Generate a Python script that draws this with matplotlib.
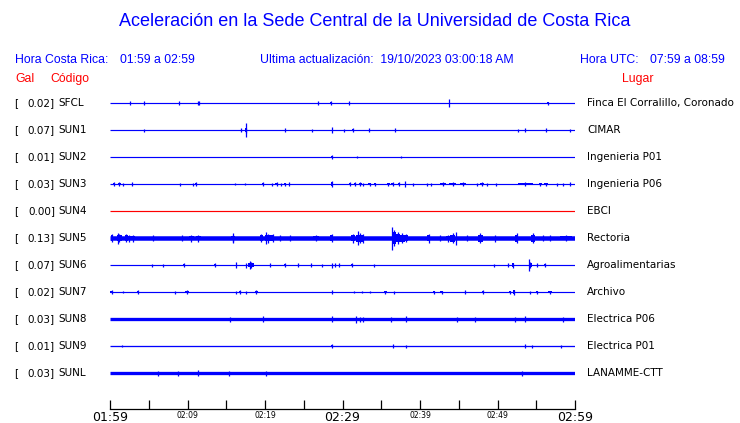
import numpy as np
import matplotlib
matplotlib.use("Agg")
import matplotlib.pyplot as plt
from matplotlib.transforms import blended_transform_factory

# Station table
codes = ["SFCL", "SUN1", "SUN2", "SUN3", "SUN4", "SUN5", "SUN6", "SUN7", "SUN8", "SUN9", "SUNL"]
peaks = [0.02, 0.07, 0.01, 0.03, 0.00, 0.13, 0.07, 0.02, 0.03, 0.01, 0.03]  # Gal
places = ["Finca El Corralillo, Coronado", "CIMAR", "Ingenieria P01", "Ingenieria P06", "EBCI",
          "Rectoria", "Agroalimentarias", "Archivo", "Electrica P06", "Electrica P01", "LANAMME-CTT"]
noise = [1.0, 1.0, 1.0, 1.0, 1.0, 4.5, 1.0, 1.0, 3.3, 1.3, 3.3]  # background band width

# Events per station: (minute after 01:59, half amplitude, duration in minutes)
sfcl_ev = [(2.6, 2, 0), (4.4, 2, 0), (8.9, 2, 0), (11.3, 2, 0), (11.5, 2, 0), (26.8, 2, 0),
           (28.5, 2, 0.3), (30.9, 2, 0), (43.7, 4, 0), (56.5, 1.5, 0.2)]
sun1_ev = [(4.4, 1.5, 0), (16.9, 2, 0), (17.5, 7, 0), (17.5, 2.5, 0.25), (22.6, 2, 0), (26.0, 1.5, 0),
           (28.6, 3, 0), (30.2, 1.5, 0), (31.3, 2, 0.15), (33.4, 2, 0), (36.8, 2, 0), (52.6, 1.5, 0),
           (53.5, 2, 0), (56.3, 2, 0.15), (59.3, 1.5, 0)]
sun2_ev = [(28.6, 2, 0.15), (31.9, 1, 0), (37.5, 1, 0)]
sun3_ev = [(0.5, 2, 0.3), (1.2, 2, 0.4), (1.7, 1.5, 0), (2.9, 2, 0), (9.0, 1.5, 0), (10.7, 1.5, 0),
           (11.1, 2, 0.2), (16.1, 1, 0), (17.4, 1, 0), (19.7, 2, 0.2), (20.9, 1.5, 0), (21.5, 2, 0.4),
           (22.1, 1.5, 0), (22.6, 1.5, 0.3), (23.1, 2, 0), (28.6, 3, 0.2), (31.0, 2, 0.2), (31.6, 2, 0.3),
           (32.3, 2, 0.4), (32.6, 1.5, 0), (33.5, 1.5, 0.3), (34.2, 1.5, 0.3), (35.9, 1.5, 0.4),
           (36.5, 2, 0.4), (37.3, 2, 0.3), (38.1, 3, 0), (39.1, 1.5, 0), (40.9, 1.5, 0), (41.4, 1.5, 0),
           (43.0, 2, 0.8), (44.2, 2, 0.8), (45.5, 2, 0.8), (47.4, 1.5, 0), (48.0, 2, 0.4), (48.6, 1.5, 0),
           (49.8, 1.5, 0), (53.6, 2, 1.9), (55.5, 1.5, 0.4), (56.3, 1.5, 0.5), (57.7, 1.5, 0),
           (58.5, 1.5, 0), (59.4, 2, 0)]
sun4_ev = []
sun5_ev = [(0.3, 4, 0.3), (1.0, 5.5, 0), (1.2, 4, 0.6), (2.1, 4, 0.4), (2.5, 3.5, 0.8), (3.0, 3.5, 0.5),
           (5.6, 3, 0), (9.3, 3, 0), (10.5, 3.5, 0.6), (11.4, 3.5, 0.6), (15.9, 5, 0), (15.9, 3.5, 0.5),
           (19.5, 4, 0.4), (20.1, 6, 0), (20.4, 4.5, 0.8), (21.0, 4, 0.4), (21.9, 3, 0), (23.2, 3, 0),
           (26.6, 3, 0.8), (28.6, 4, 0.3), (31.4, 4.5, 0.5), (32.0, 7, 0), (32.2, 5, 0.8), (32.6, 4.5, 0.3),
           (36.4, 11.5, 0), (36.6, 8, 0.5), (37.1, 6, 0.6), (37.7, 5, 0.6), (38.2, 4, 0.4), (41.1, 4.5, 0.4),
           (42.6, 3, 0), (43.6, 3.5, 0.5), (44.2, 5, 0.6), (44.6, 6.5, 0), (46.0, 3, 0), (47.8, 5, 0.6),
           (49.7, 3.5, 0), (52.5, 5, 0.4), (54.6, 5, 0.5), (55.9, 3, 0), (56.8, 3, 0), (58.8, 3, 1.5)]
sun6_ev = [(5.4, 1.5, 0), (6.9, 1.5, 0), (9.5, 2, 0.2), (13.5, 2, 0.2), (16.2, 3, 0), (17.6, 2.5, 0),
           (18.0, 4, 0), (18.2, 3, 0.8), (20.6, 2, 0), (22.6, 2, 0.2), (24.2, 2, 0), (25.9, 2, 0),
           (27.4, 1.5, 0), (28.6, 2.5, 0), (29.0, 2, 0), (29.6, 2, 0), (31.2, 2, 0.2), (34.1, 1.5, 0),
           (49.6, 1.5, 0), (51.4, 2, 0.2), (52.0, 2.5, 0.2), (54.1, 6, 0), (54.2, 3, 0.4), (55.1, 2, 0),
           (56.1, 2, 0.2)]
sun7_ev = [(0.2, 2, 0.3), (1.7, 1, 0), (3.6, 2, 0.3), (8.4, 1.5, 0), (9.9, 2, 0.5), (16.2, 1.5, 0),
           (16.8, 2, 0.2), (17.6, 1.5, 0), (18.9, 2, 0.35), (28.6, 2, 0), (31.5, 1, 0), (32.5, 1, 0),
           (33.5, 1, 0), (35.5, 1.5, 0.4), (36.6, 1.5, 0), (41.8, 1.5, 0.3), (42.8, 1.5, 0.4), (45.8, 2, 0),
           (48.1, 2, 0.3), (51.6, 1.5, 0.3), (52.1, 2.5, 0.3), (54.2, 1.5, 0), (55.1, 1.5, 0.3),
           (56.8, 1.5, 0.5)]
sun8_ev = [(15.5, 2.5, 0), (19.7, 3, 0), (28.6, 3, 0), (31.8, 3.5, 0), (32.3, 2.5, 0), (32.7, 2.5, 0),
           (36.3, 2.5, 0), (38.2, 3, 0), (44.8, 2.5, 0), (47.1, 2.5, 0), (52.2, 2.5, 0), (53.5, 3, 0),
           (58.4, 2.5, 0)]
sun9_ev = [(1.6, 1, 0), (28.6, 2, 0.15), (36.5, 2, 0), (38.2, 1.5, 0), (53.5, 2, 0), (54.5, 1.5, 0),
           (58.2, 1.5, 0)]
sunl_ev = [(6.2, 2.5, 0), (8.8, 2.5, 0), (11.4, 3, 0), (15.3, 2.5, 0), (20.1, 2.5, 0), (53.2, 2.5, 0)]

events = [sfcl_ev, sun1_ev, sun2_ev, sun3_ev, sun4_ev, sun5_ev, sun6_ev, sun7_ev, sun8_ev, sun9_ev, sunl_ev]

tick_min = np.arange(0, 61, 5)
tick_lbl = ["01:59", "", "02:09", "", "02:19", "", "02:29", "", "02:39", "", "02:49", "", "02:59"]

blue = "#0000ff"
scale = 1 / 27.0  # amplitude units -> row spacing

fig = plt.figure(figsize=(7.4, 4.23), dpi=100)
ax = fig.add_axes([110 / 740, 14 / 423, 465 / 740, 321 / 423])
ax.set_xlim(0, 60)
ax.set_ylim(11.333, -0.556)

for i in range(len(codes)):
    col = "red" if codes[i] == "SUN4" else blue
    ax.plot([0, 60], [i, i], color=col, lw=max(noise[i] * 0.72, 0.85), solid_capstyle="butt")
    for t, a, w in events[i]:
        if w == 0:
            ax.vlines(t, i - a * scale, i + a * scale, color=col, lw=0.9)
        else:
            h = 0.7 * a
            ax.bar(t, 2 * h * scale, width=w, bottom=i - h * scale, color=col, lw=0)
            ax.vlines(t, i - a * scale, i + a * scale, color=col, lw=0.9)

for s in ["top", "left", "right"]:
    ax.spines[s].set_visible(False)
ax.spines["bottom"].set_linewidth(0.9)
ax.set_yticks([])
ax.set_xticks(tick_min)
ax.set_xticklabels(tick_lbl, family="DejaVu Sans")
ax.tick_params(axis="x", direction="in", length=6.5, width=0.9, pad=1.5)
for lab in ax.get_xticklabels():
    if lab.get_text() in ("01:59", "02:29", "02:59"):
        lab.set_fontsize(9)
    else:
        lab.set_fontsize(5.5)

# row labels
tr = blended_transform_factory(fig.transFigure, ax.transData)
for i in range(len(codes)):
    ax.text(14 / 740, i, "[", transform=tr, fontsize=7.5, family="DejaVu Sans", va="center")
    ax.text(55 / 740, i, "%.2f]" % peaks[i], transform=tr, fontsize=7.5, family="DejaVu Sans",
            va="center", ha="right")
    ax.text(58 / 740, i, codes[i], transform=tr, fontsize=7.5, family="DejaVu Sans", va="center")
    ax.text(587 / 740, i, places[i], transform=tr, fontsize=7.5, family="DejaVu Sans", va="center")

# header
hf = "Liberation Sans"
fig.text(375 / 740, 1 - 22 / 423, "Aceleración en la Sede Central de la Universidad de Costa Rica",
         ha="center", va="center", fontsize=13, color=blue, family=hf)
fig.text(15 / 740, 1 - 60 / 423, "Hora Costa Rica:", fontsize=8.8, color=blue, family=hf, va="center")
fig.text(120 / 740, 1 - 60 / 423, "01:59 a 02:59", fontsize=8.8, color=blue, family=hf, va="center")
fig.text(260 / 740, 1 - 60 / 423, "Ultima actualización:  19/10/2023 03:00:18 AM", fontsize=8.8,
         color=blue, family=hf, va="center")
fig.text(580 / 740, 1 - 60 / 423, "Hora UTC:", fontsize=8.8, color=blue, family=hf, va="center")
fig.text(650 / 740, 1 - 60 / 423, "07:59 a 08:59", fontsize=8.8, color=blue, family=hf, va="center")
fig.text(15 / 740, 1 - 79 / 423, "Gal", fontsize=8.8, color="red", family=hf, va="center")
fig.text(50 / 740, 1 - 79 / 423, "Código", fontsize=8.8, color="red", family=hf, va="center")
fig.text(622 / 740, 1 - 79 / 423, "Lugar", fontsize=8.8, color="red", family=hf, va="center")

fig.savefig("out.png", dpi=100)
